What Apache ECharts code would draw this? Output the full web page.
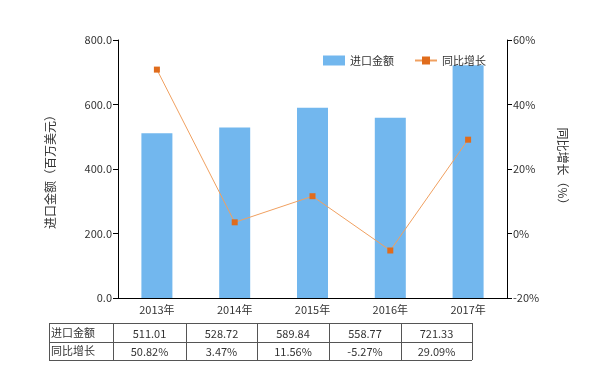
<!DOCTYPE html>
<html><head><meta charset="utf-8">
<script src="https://cdn.jsdelivr.net/npm/echarts@6/dist/echarts.min.js"></script>
<style>html,body{margin:0;padding:0;background:#fff}#c{width:605px;height:375px}</style>
</head><body><div id="c"></div>
<script>
var categories = ['2013年','2014年','2015年','2016年','2017年'];
var importValues = [511.01, 528.72, 589.84, 558.77, 721.33];
var growthValues = [50.82, 3.47, 11.56, -5.27, 29.09];
var importLabels = ['511.01','528.72','589.84','558.77','721.33'];
var growthLabels = ['50.82%','3.47%','11.56%','-5.27%','29.09%'];
var rowNames = ['进口金额','同比增长'];

var font = '"Microsoft YaHei","Noto Sans CJK SC",sans-serif';
var chart = echarts.init(document.getElementById('c'));

// table graphic
var colX = [49, 113, 186, 257, 329, 401, 472];
var rowY = [323, 342, 360];
var g = [];
for (var r = 0; r < rowY.length; r++) {
  g.push({type:'line', shape:{x1:colX[0], y1:rowY[r]+0.5, x2:colX[6], y2:rowY[r]+0.5}, style:{stroke:'#555', lineWidth:1}});
}
for (var c = 0; c < colX.length; c++) {
  g.push({type:'line', shape:{x1:colX[c]+0.5, y1:rowY[0], x2:colX[c]+0.5, y2:rowY[2]}, style:{stroke:'#555', lineWidth:1}});
}
var rows = [importLabels, growthLabels];
for (var r2 = 0; r2 < 2; r2++) {
  g.push({type:'text', x:colX[0]+2, y:(rowY[r2]+rowY[r2+1])/2, style:{text:rowNames[r2], fill:'#333', font:'11px '+font, textVerticalAlign:'middle', textAlign:'left'}});
  for (var k = 0; k < 5; k++) {
    g.push({type:'text', x:(colX[k+1]+colX[k+2])/2, y:(rowY[r2]+rowY[r2+1])/2+1, style:{text:rows[r2][k], fill:'#333', font:'11px '+font, textVerticalAlign:'middle', textAlign:'center'}});
  }
}

chart.setOption({
  animation:false,
  textStyle:{fontFamily:font},
  legend:{
    top:50, left:318, itemGap:20, itemWidth:22, itemHeight:10,
    textStyle:{fontSize:11, color:'#333'},
    data:[{name:'进口金额', icon:'rect'}, {name:'同比增长'}]
  },
  grid:{left:118, right:98, top:40, bottom:77, containLabel:false},
  xAxis:{
    type:'category', data:categories,
    axisLine:{lineStyle:{color:'#000'}},
    axisTick:{alignWithLabel:true, length:4, lineStyle:{color:'#000'}},
    axisLabel:{color:'#333', fontSize:11, margin:6}
  },
  yAxis:[{
    type:'value', min:0, max:800, interval:200,
    name:'进口金额（百万美元）', nameLocation:'middle', nameGap:62, nameRotate:90,
    nameTextStyle:{fontSize:12, color:'#333'},
    axisLine:{show:true, lineStyle:{color:'#000'}},
    axisTick:{show:true, length:5, lineStyle:{color:'#000'}},
    splitLine:{show:false},
    axisLabel:{color:'#333', fontSize:11, margin:6, formatter:function(v){return v.toFixed(1);}}
  },{
    type:'value', min:-20, max:60, interval:20, position:'right',
    name:'同比增长（%）', nameLocation:'middle', nameGap:50, nameRotate:-90,
    nameTextStyle:{fontSize:12, color:'#333'},
    axisLine:{show:true, lineStyle:{color:'#000'}},
    axisTick:{show:true, length:5, lineStyle:{color:'#000'}},
    splitLine:{show:false},
    axisLabel:{color:'#333', fontSize:11, margin:6, formatter:'{value}%'}
  }],
  series:[{
    name:'进口金额', type:'bar', data:importValues, barWidth:31,
    itemStyle:{color:'#72b7ee'}
  },{
    name:'同比增长', type:'line', yAxisIndex:1, data:growthValues,
    symbol:'rect', symbolSize:6,
    lineStyle:{color:'#f0a060', width:1},
    itemStyle:{color:'#e06c1c'}
  }],
  graphic:g
});
</script></body></html>
